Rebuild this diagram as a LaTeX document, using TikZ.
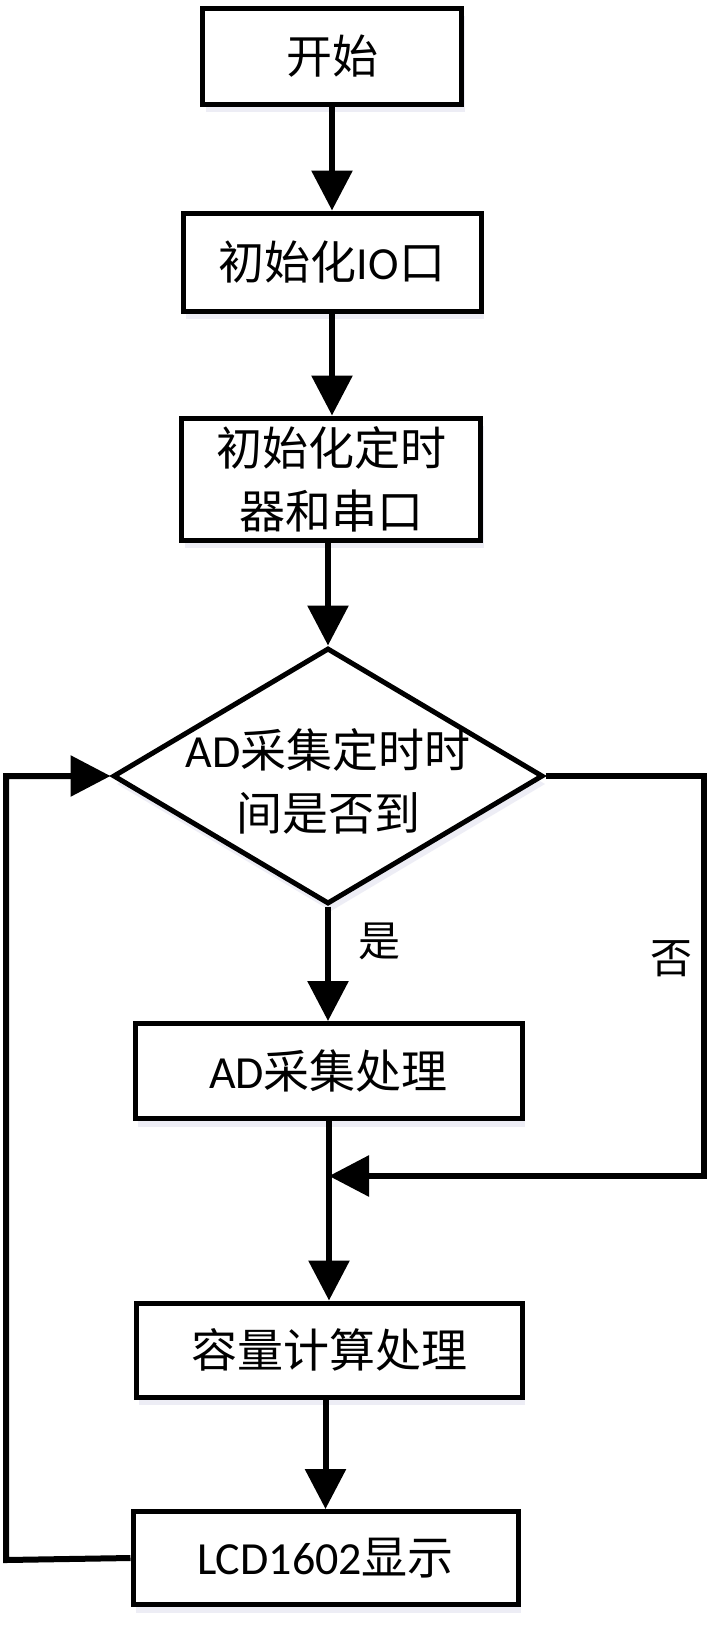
\documentclass[tikz,border=0pt]{standalone}
\usepackage{fontspec}
\setmainfont{Carlito}
\newfontfamily\cjk{Noto Sans CJK SC}
\usetikzlibrary{arrows.meta,shapes.geometric,shadows}
\begin{document}
\begin{tikzpicture}[x=1pt,y=-1pt,
  every node/.style={font=\fontsize{46pt}{63pt}\selectfont, text=black},
  procbox/.style={draw=black, line width=5pt, fill=white, rectangle, inner sep=0pt,
    drop shadow={shadow xshift=3pt, shadow yshift=-8pt, fill=blue!30!gray!30, opacity=0.35}},
  decbox/.style={draw=black, line width=5pt, fill=white, diamond, inner sep=0pt,
    drop shadow={shadow xshift=3pt, shadow yshift=-8pt, fill=blue!30!gray!30, opacity=0.35}},
  conn/.style={draw=black, line width=6pt, line join=miter},
  arr/.style={conn, -{Triangle[length=40pt,width=40pt]}},
  lbl/.style={font=\fontsize{42pt}{50pt}\selectfont}
]
\useasboundingbox (0,0) rectangle (720,1644);
\fill[white] (0,0) rectangle (720,1644);

% boxes
\node[procbox, minimum width=259pt, minimum height=96pt] (b1) at (332,56) {};
\node at (b1) {\cjk 开始};
\node[procbox, minimum width=298pt, minimum height=98pt] (b2) at (332,262) {};
\node at (b2) {{\cjk 初始化}IO{\cjk 口}};
\node[procbox, minimum width=299pt, minimum height=122pt] (b3) at (331,479) {};
\node[align=center] at (b3) {{\cjk 初始化定时}\\{\cjk 器和串口}};
\node[decbox, minimum width=430pt, minimum height=256pt] (d) at (328,776) {};
\node[align=center] at (328,781) {AD{\cjk 采集定时时}\\{\cjk 间是否到}};
\node[procbox, minimum width=387pt, minimum height=95pt] (ad) at (328.5,1071) {};
\node at (ad) {AD{\cjk 采集处理}};
\node[procbox, minimum width=386pt, minimum height=94pt] (b5) at (329,1350) {};
\node at (b5) {\cjk 容量计算处理};
\node[procbox, minimum width=385pt, minimum height=93pt] (b6) at (325.5,1558) {};
\node at (b6) {LCD1602{\cjk 显示}};

% junction coordinates
\coordinate (m) at (329,1176);
\coordinate (rt) at (704,776);
\coordinate (rb) at (704,1176);
\coordinate (lb) at (6,1560);
\coordinate (lt) at (6,776);

% connectors
\draw[arr] (b1.south) -- (b1.south |- b2.north);
\draw[arr] (b2.south) -- (b2.south |- b3.north);
\draw[arr] (b3.south -| d.north) -- (d.north);
\draw[arr] (d.south) -- (d.south |- ad.north);
\draw[conn] (ad.south -| m) -- (m);
\draw[arr] (m) -- (m |- b5.north);
\draw[arr] (b5.south -| b6.north) -- (b6.north);
\draw[arr] (d.east) -- (rt) -- (rb) -- (m);
\draw[arr] (b6.west) -- (lb) -- (lt) -- (d.west);

% labels
\node[lbl] (yes) at (379,941) {\cjk 是};
\node[lbl] (no) at (671,959) {\cjk 否};
\end{tikzpicture}
\end{document}
